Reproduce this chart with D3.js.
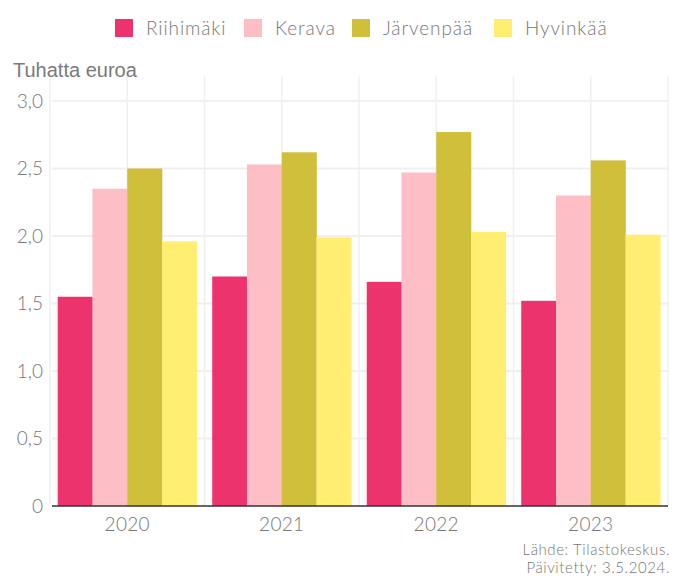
<!DOCTYPE html>
<html>
<head>
<meta charset="utf-8">
<script src="https://cdn.jsdelivr.net/npm/d3@7"></script>
<style>
  body { margin: 0; background: #fff; }
  #chart text { font-family: Lato, "Noto Sans", sans-serif; font-weight: 300; }
</style>
</head>
<body>
<div id="chart"></div>
<script>
// data
const years = ['2020', '2021', '2022', '2023'];
const cities = ['Riihimäki', 'Kerava', 'Järvenpää', 'Hyvinkää'];
const riihimaki = [1.55, 1.70, 1.66, 1.52];
const kerava = [2.35, 2.53, 2.47, 2.30];
const jarvenpaa = [2.50, 2.62, 2.77, 2.56];
const hyvinkaa = [1.96, 1.99, 2.03, 2.01];
const yTicks = [0, 0.5, 1, 1.5, 2, 2.5, 3];
const colors = ['#ec336d', '#fdbec6', '#d0bf3a', '#ffee72'];

const series = [riihimaki, kerava, jarvenpaa, hyvinkaa];
const width = 678, height = 576;

const svg = d3.select('#chart').append('svg')
  .attr('width', width)
  .attr('height', height);

const x = d3.scaleBand().domain(years).range([50, 668])
  .paddingInner(0.1).paddingOuter(0.05);
const x1 = d3.scaleBand().domain(cities).range([0, x.bandwidth()]);
const y = d3.scaleLinear().domain([0, 3]).range([506, 101]);

// gridlines (band edges and band centres)
const step = x.step();
const vx = [];
for (let i = 0; i <= years.length * 2; i++) vx.push(50 + i * step / 2);
const grid = svg.append('g');
grid.selectAll('line.v').data(vx).enter().append('line')
  .attr('x1', d => d).attr('x2', d => d)
  .attr('y1', y(3) - 25).attr('y2', y(0))
  .attr('stroke', '#f0f0f0').attr('stroke-width', 1.5);
grid.selectAll('line.h').data(yTicks.filter(d => d > 0)).enter().append('line')
  .attr('x1', 52).attr('x2', 668)
  .attr('y1', d => y(d)).attr('y2', d => y(d))
  .attr('stroke', '#f0f0f0').attr('stroke-width', 2);

// bars
const groups = svg.append('g').selectAll('g').data(years).enter().append('g')
  .attr('transform', d => `translate(${x(d)},0)`);
groups.selectAll('rect')
  .data((d, i) => cities.map((c, j) => ({ c: c, v: series[j][i], j: j })))
  .enter().append('rect')
  .attr('x', d => x1(d.c))
  .attr('width', x1.bandwidth() + 0.3)
  .attr('y', d => y(d.v))
  .attr('height', d => y(0) - y(d.v))
  .attr('fill', d => colors[d.j]);

// baseline
svg.append('line')
  .attr('x1', 52).attr('x2', 668)
  .attr('y1', y(0)).attr('y2', y(0))
  .attr('stroke', '#333').attr('stroke-width', 1.5);

// y tick labels
svg.append('g').selectAll('text').data(yTicks).enter().append('text')
  .attr('x', 43).attr('y', d => y(d))
  .attr('dy', '0.35em')
  .attr('text-anchor', 'end')
  .attr('font-size', 19)
  .attr('fill', '#777')
  .text(d => d === 0 ? '0' : d3.format('.1f')(d).replace('.', ','));

// x labels
svg.append('g').selectAll('text').data(years).enter().append('text')
  .attr('x', d => x(d) + x.bandwidth() / 2)
  .attr('y', 524)
  .attr('dy', '0.35em')
  .attr('text-anchor', 'middle')
  .attr('font-size', 19)
  .attr('fill', '#777')
  .style('letter-spacing', '0.3px')
  .text(d => d);

// axis title
svg.append('text')
  .attr('x', 13).attr('y', 77)
  .attr('font-size', 20)
  .attr('fill', '#7a7a7a')
  .style('font-family', '"Liberation Sans", Arial, sans-serif')
  .style('font-weight', 400)
  .text('Tuhatta euroa');

// legend
const legendX = [115, 244, 352, 494];
const legend = svg.append('g').selectAll('g').data(cities).enter().append('g')
  .attr('transform', (d, i) => `translate(${legendX[i]},19)`);
legend.append('rect')
  .attr('width', 18).attr('height', 18)
  .attr('fill', (d, i) => colors[i]);
legend.append('text')
  .attr('x', 31).attr('y', 9)
  .attr('dy', '0.35em')
  .attr('font-size', 19)
  .attr('fill', '#777')
  .style('letter-spacing', '0.9px')
  .text(d => d);

// source
svg.append('text')
  .attr('x', 670).attr('y', 555)
  .attr('text-anchor', 'end')
  .attr('font-size', 15)
  .attr('fill', '#777')
  .style('letter-spacing', '0.6px')
  .text('Lähde: Tilastokeskus.');
svg.append('text')
  .attr('x', 670).attr('y', 573)
  .attr('text-anchor', 'end')
  .attr('font-size', 15)
  .attr('fill', '#777')
  .style('letter-spacing', '0.6px')
  .text('Päivitetty: 3.5.2024.');
</script>
</body>
</html>
